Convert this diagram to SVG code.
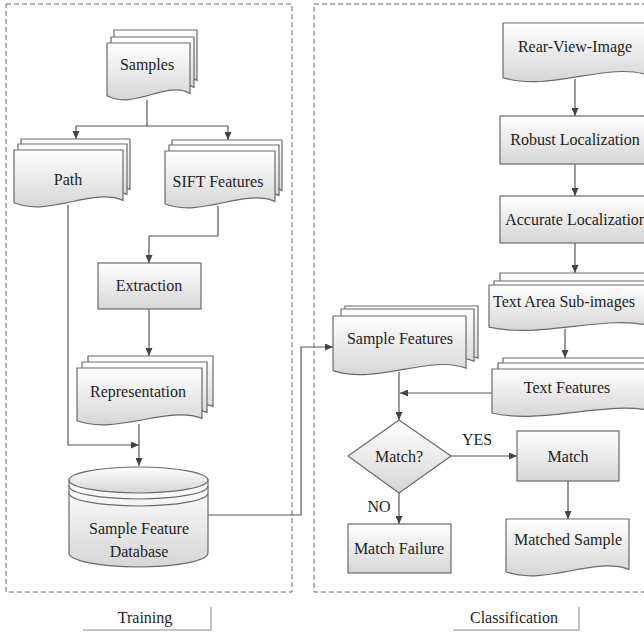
<svg xmlns="http://www.w3.org/2000/svg" xmlns:xlink="http://www.w3.org/1999/xlink" width="644" height="633" viewBox="0 0 644 633">
<style>
.shape{fill:url(#grad);stroke:#6a6a6a;stroke-width:1.2}
.line{fill:none;stroke:#555;stroke-width:1.2}
.frame{fill:none;stroke:#666;stroke-width:1;stroke-dasharray:5,3}
.shadow{fill:none;stroke:#c4c4c4;stroke-width:2}
text{font-family:"Liberation Serif","Times New Roman",serif;font-size:16px;fill:#1e1e1e;text-anchor:middle}
</style>
<defs>
<linearGradient id="grad" x1="0" y1="0" x2="0" y2="1">
<stop offset="0" stop-color="#ffffff"/>
<stop offset="1" stop-color="#d6d6d6"/>
</linearGradient>
<marker id="arr" markerUnits="userSpaceOnUse" markerWidth="8" markerHeight="7" refX="8" refY="3.5" orient="auto">
<path d="M0,0 L8,3.5 L0,7 Z" fill="#444"/>
</marker>
<path id="dSamples" class="shape" d="M107 43 H190 V93.4 C166.8 80.2 133.6 110.2 107 95.8 Z"/>
<path id="dPath" class="shape" d="M14 150 H123 V200.4 C92.5 187.2 48.9 217.2 14 202.8 Z"/>
<path id="dSift" class="shape" d="M165 151 H275 V201.4 C244.2 188.2 200.2 218.2 165 203.8 Z"/>
<path id="dRep" class="shape" d="M77 368 H202 V418.4 C167 405.2 117 435.2 77 420.8 Z"/>
<path id="dTextArea" class="shape" d="M489 285 H649 V325.3 C604.2 314.8 540.2 338.8 489 327.2 Z"/>
<path id="dTextFeat" class="shape" d="M492 369 H652 V411 C607.2 400 543.2 425 492 413 Z"/>
<path id="dSampleFeat" class="shape" d="M333 316 H466 V368.1 C428.8 354.4 375.6 385.4 333 370.6 Z"/>
</defs>

<rect class="frame" x="6" y="4" width="286" height="588"/>
<rect class="frame" x="314" y="4" width="340" height="588"/>

<g id="connectors">
<path class="line" d="M147 100 V126 M76 126 H228"/>
<path class="line" d="M76 126 V139" marker-end="url(#arr)"/>
<path class="line" d="M228 126 V140" marker-end="url(#arr)"/>
<path class="line" d="M68 205 V445 H139" marker-end="url(#arr)"/>
<path class="line" d="M218 206 V236 H149 V263" marker-end="url(#arr)"/>
<path class="line" d="M149 309 V356" marker-end="url(#arr)"/>
<path class="line" d="M139 424 V466" marker-end="url(#arr)"/>
<path class="line" d="M208 515 H301 V347 H333" marker-end="url(#arr)"/>
<path class="line" d="M575 79 V116" marker-end="url(#arr)"/>
<path class="line" d="M575 164 V196" marker-end="url(#arr)"/>
<path class="line" d="M575 243 V273" marker-end="url(#arr)"/>
<path class="line" d="M565 329 V358" marker-end="url(#arr)"/>
<path class="line" d="M492 393 H400" marker-end="url(#arr)"/>
<path class="line" d="M399 372 V420" marker-end="url(#arr)"/>
<path class="line" d="M451 456 H517" marker-end="url(#arr)"/>
<path class="line" d="M568 481 V519" marker-end="url(#arr)"/>
<path class="line" d="M399 493 V524" marker-end="url(#arr)"/>
</g>

<g id="samples">
<use xlink:href="#dSamples" transform="translate(7,-13)"/>
<use xlink:href="#dSamples" transform="translate(4,-6)"/>
<use xlink:href="#dSamples"/>
<text x="147" y="70">Samples</text>
</g>

<g id="path">
<use xlink:href="#dPath" transform="translate(7,-11)"/>
<use xlink:href="#dPath" transform="translate(4,-6)"/>
<use xlink:href="#dPath"/>
<text x="68" y="185">Path</text>
</g>

<g id="sift">
<use xlink:href="#dSift" transform="translate(7,-11)"/>
<use xlink:href="#dSift" transform="translate(4,-6)"/>
<use xlink:href="#dSift"/>
<text x="218" y="187">SIFT Features</text>
</g>

<g id="extraction">
<rect class="shape" x="98" y="263" width="103" height="46"/>
<text x="149" y="291">Extraction</text>
</g>

<g id="representation">
<use xlink:href="#dRep" transform="translate(11,-12)"/>
<use xlink:href="#dRep" transform="translate(5,-6)"/>
<use xlink:href="#dRep"/>
<text x="138" y="397">Representation</text>
</g>

<g id="database">
<path class="shape" d="M69 480 V553 A69.5 14 0 0 0 208 553 V480 Z"/>
<ellipse class="shape" cx="138.5" cy="480" rx="69.5" ry="13"/>
<path class="line" style="stroke:#6a6a6a" d="M69 486 A69.5 13 0 0 0 208 486 M69 493 A69.5 13 0 0 0 208 493"/>
<text x="139" y="534">Sample Feature</text>
<text x="139" y="557">Database</text>
</g>

<g id="rear-view-image">
<path class="shape" d="M503 23 H648 V75.1 C607.4 61.4 549.4 92.4 503 77.6 Z"/>
<text x="575" y="52">Rear-View-Image</text>
</g>

<g id="robust-localization">
<rect class="shape" x="500" y="116" width="150" height="48"/>
<text x="575" y="145">Robust Localization</text>
</g>

<g id="accurate-localization">
<rect class="shape" x="500" y="196" width="150" height="47"/>
<text x="576" y="225">Accurate Localization</text>
</g>

<g id="text-area">
<use xlink:href="#dTextArea" transform="translate(11,-12)"/>
<use xlink:href="#dTextArea" transform="translate(5,-4)"/>
<use xlink:href="#dTextArea"/>
<text x="564" y="307">Text Area Sub-images</text>
</g>

<g id="text-features">
<use xlink:href="#dTextFeat" transform="translate(11,-11)"/>
<use xlink:href="#dTextFeat" transform="translate(6,-6)"/>
<use xlink:href="#dTextFeat"/>
<text x="567" y="393">Text Features</text>
</g>

<g id="sample-features">
<use xlink:href="#dSampleFeat" transform="translate(12,-10)"/>
<use xlink:href="#dSampleFeat" transform="translate(8,-7)"/>
<use xlink:href="#dSampleFeat"/>
<text x="400" y="344">Sample Features</text>
</g>

<g id="match-decision">
<path class="shape" d="M399 420 L451 456 L399 493 L348 456 Z"/>
<text x="399" y="462">Match?</text>
</g>

<g id="match">
<rect class="shape" x="517" y="431" width="102" height="50"/>
<text x="568" y="462">Match</text>
</g>

<g id="matched-sample">
<path class="shape" d="M506 519 H629 V569.4 C594.6 556.2 545.4 586.2 506 571.8 Z"/>
<text x="568" y="545">Matched Sample</text>
</g>

<g id="match-failure">
<rect class="shape" x="348" y="524" width="103" height="49"/>
<text x="399" y="554">Match Failure</text>
</g>

<g id="labels">
<text x="477" y="445">YES</text>
<text x="379" y="512">NO</text>
</g>

<g id="training-label">
<path class="shadow" d="M83 630 H211 V607"/>
<text x="145" y="623">Training</text>
</g>

<g id="classification-label">
<path class="shadow" d="M453 630 H579 V607"/>
<text x="514" y="623">Classification</text>
</g>
</svg>
